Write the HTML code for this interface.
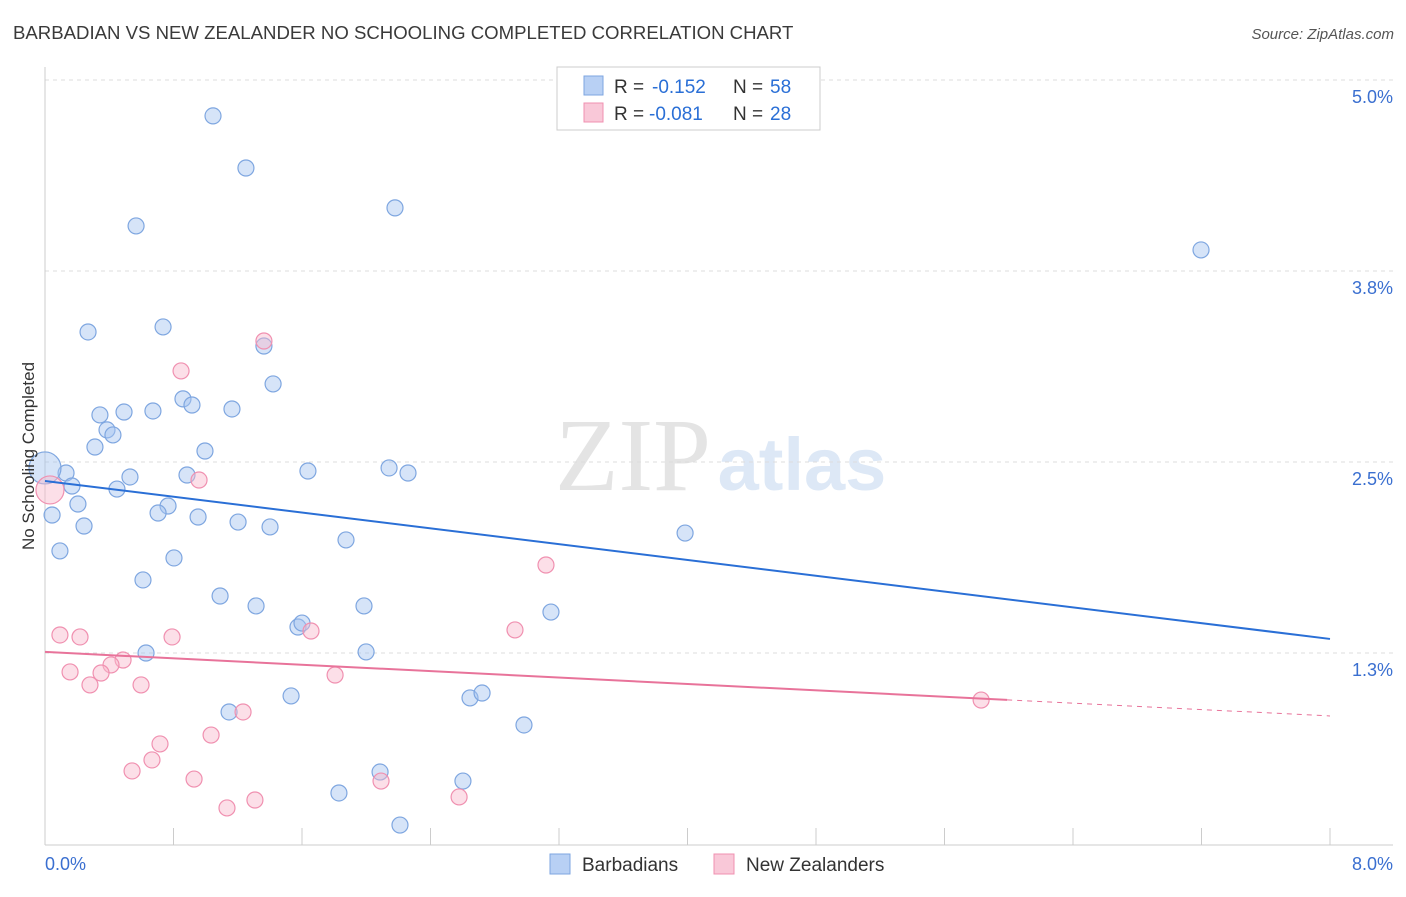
<!DOCTYPE html>
<html><head><meta charset="utf-8"><style>
body{margin:0;background:#fff;font-family:"Liberation Sans",sans-serif;}
</style></head><body>
<svg id="chart" width="1406" height="892" viewBox="0 0 1406 892" xmlns="http://www.w3.org/2000/svg" style="font-family:'Liberation Sans',sans-serif">
<text x="13" y="39" font-size="18.6" fill="#3a3a3a">BARBADIAN VS NEW ZEALANDER NO SCHOOLING COMPLETED CORRELATION CHART</text>
<text x="1394" y="39" font-size="15" fill="#555" font-style="italic" text-anchor="end">Source: ZipAtlas.com</text>
<g>
<text x="633" y="490" font-size="104" fill="#e4e4e4" text-anchor="middle" font-family="'Liberation Serif',serif">ZIP</text>
<text x="802" y="490" font-size="74" fill="#dde8f6" text-anchor="middle" font-weight="bold">atlas</text>
</g>
<g id="grid"></g><g id="axes"></g><g id="marks"></g>
<text transform="translate(34,456) rotate(-90)" font-size="17" fill="#333" text-anchor="middle">No Schooling Completed</text>
<g>
<rect x="557" y="67" width="263" height="63" fill="#fff" stroke="#ccc"/>
<rect x="584" y="76" width="19" height="19" fill="#b8d0f4" stroke="#7ea6e0"/>
<text y="93" font-size="19" fill="#333"><tspan x="614">R =</tspan><tspan x="652" fill="#2a6fd6">-0.152</tspan><tspan x="733">N =</tspan><tspan x="770" fill="#2a6fd6">58</tspan></text>
<rect x="584" y="103" width="19" height="19" fill="#f9c8d8" stroke="#f090b0"/>
<text y="120" font-size="19" fill="#333"><tspan x="614">R =</tspan><tspan x="649" fill="#2a6fd6">-0.081</tspan><tspan x="733">N =</tspan><tspan x="770" fill="#2a6fd6">28</tspan></text>
</g>
<g>
<rect x="550" y="854" width="20" height="20" fill="#b8d0f4" stroke="#7ea6e0"/>
<text x="582" y="871" font-size="19" fill="#333">Barbadians</text>
<rect x="714" y="854" width="20" height="20" fill="#f9c8d8" stroke="#f090b0"/>
<text x="746" y="871" font-size="19" fill="#333">New Zealanders</text>
</g>
</svg>
<script>
const blueX=[1.046,1.251,0.567,2.179,7.197,0.268,0.735,1.363,1.420,0.342,0.492,0.672,0.859,0.915,1.164,0.386,0.423,0.311,0.996,0.131,0.529,0.884,1.637,2.142,2.260,0.168,0.448,0.205,0.766,0.704,0.953,0.044,0.243,1.202,1.401,3.985,1.874,0.093,0.803,0.610,1.090,1.314,1.986,3.150,1.575,1.600,0.629,1.999,1.532,2.646,2.721,1.146,2.982,2.086,2.602,1.830,2.210,0.0];
const blueY=[4.765,4.424,4.045,4.163,3.888,3.351,3.384,3.259,3.011,2.808,2.827,2.834,2.913,2.873,2.847,2.710,2.677,2.598,2.572,2.428,2.402,2.415,2.441,2.461,2.428,2.343,2.323,2.225,2.212,2.166,2.140,2.153,2.081,2.107,2.075,2.035,1.990,1.918,1.872,1.728,1.623,1.558,1.558,1.518,1.420,1.446,1.250,1.257,0.969,0.956,0.988,0.864,0.779,0.471,0.412,0.334,0.124,2.461];
const pinkX=[1.363,0.847,0.959,0.031,3.119,0.093,0.218,0.791,1.656,2.926,0.486,0.411,0.349,0.156,0.280,0.598,1.806,5.828,1.233,1.034,0.716,0.666,0.542,0.928,2.092,1.307,1.133,2.578];
const pinkY=[3.292,3.096,2.382,2.317,1.826,1.368,1.355,1.355,1.394,1.401,1.204,1.172,1.119,1.126,1.041,1.041,1.106,0.942,0.864,0.713,0.655,0.550,0.478,0.425,0.412,0.288,0.236,0.308];
const blueTrend=[2.376,1.342];
const pinkTrend=[1.257,0.838];
const pinkSolidEnd=5.99;
const yTicks=[5.0,3.75,2.5,1.25];
const yTickLabels=["5.0%","3.8%","2.5%","1.3%"];
const xTicks=[0,0.8,1.6,2.4,3.2,4.0,4.8,5.6,6.4,7.2,8.0];
const NS="http://www.w3.org/2000/svg";
const X=v=>45+v/8*1285, Y=v=>844-v*152.8;
function mk(p,t,a){const e=document.createElementNS(NS,t);for(const k in a)e.setAttribute(k,a[k]);p.appendChild(e);return e;}
const grid=document.getElementById('grid'),axes=document.getElementById('axes'),marks=document.getElementById('marks');
yTicks.forEach((v,i)=>{
 const l=mk(grid,'line',{x1:45,x2:1393,y1:Y(v),y2:Y(v),stroke:'#ddd','stroke-dasharray':'4,4'});
 
 
 const t=mk(axes,'text',{x:1393,y:Y(v)+23,'font-size':18,fill:'#3a6fd0','text-anchor':'end'});
 t.textContent=yTickLabels[i];
 
 
});
let a=mk(axes,'line',{x1:45,x2:45,y1:67,y2:845,stroke:'#ccc'});


a=mk(axes,'line',{x1:45,x2:1393,y1:845,y2:845,stroke:'#ccc'});


xTicks.forEach(v=>{const t=mk(axes,'line',{x1:X(v),x2:X(v),y1:828,y2:845,stroke:'#ccc'});
 
 });
let tl=mk(axes,'text',{x:45,y:870,'font-size':18,fill:'#3a6fd0'});tl.textContent='0.0%';


tl=mk(axes,'text',{x:1393,y:870,'font-size':18,fill:'#3a6fd0','text-anchor':'end'});tl.textContent='8.0%';


blueX.forEach((x,i)=>{const c=mk(marks,'circle',{cx:X(x),cy:Y(blueY[i]),r:(i==blueX.length-1)?16:8,fill:'rgba(165,195,240,0.45)',stroke:'#7ea6e0','stroke-width':1.2});
 
 });
pinkX.forEach((x,i)=>{const c=mk(marks,'circle',{cx:X(x),cy:Y(pinkY[i]),r:(i==3)?14:8,fill:'rgba(248,185,205,0.45)',stroke:'#f090b0','stroke-width':1.2});
 
 });
const pv=x=>pinkTrend[0]+(pinkTrend[1]-pinkTrend[0])*x/8;
let ln=mk(marks,'line',{x1:X(0),y1:Y(blueTrend[0]),x2:X(8),y2:Y(blueTrend[1]),stroke:'#2a6fd6','stroke-width':2});


ln=mk(marks,'line',{x1:X(0),y1:Y(pv(0)),x2:X(pinkSolidEnd),y2:Y(pv(pinkSolidEnd)),stroke:'#e8739a','stroke-width':2});


ln=mk(marks,'line',{x1:X(pinkSolidEnd),y1:Y(pv(pinkSolidEnd)),x2:X(8),y2:Y(pv(8)),stroke:'#e8739a','stroke-width':1,'stroke-dasharray':'5,5'});


</script>
</body></html>
